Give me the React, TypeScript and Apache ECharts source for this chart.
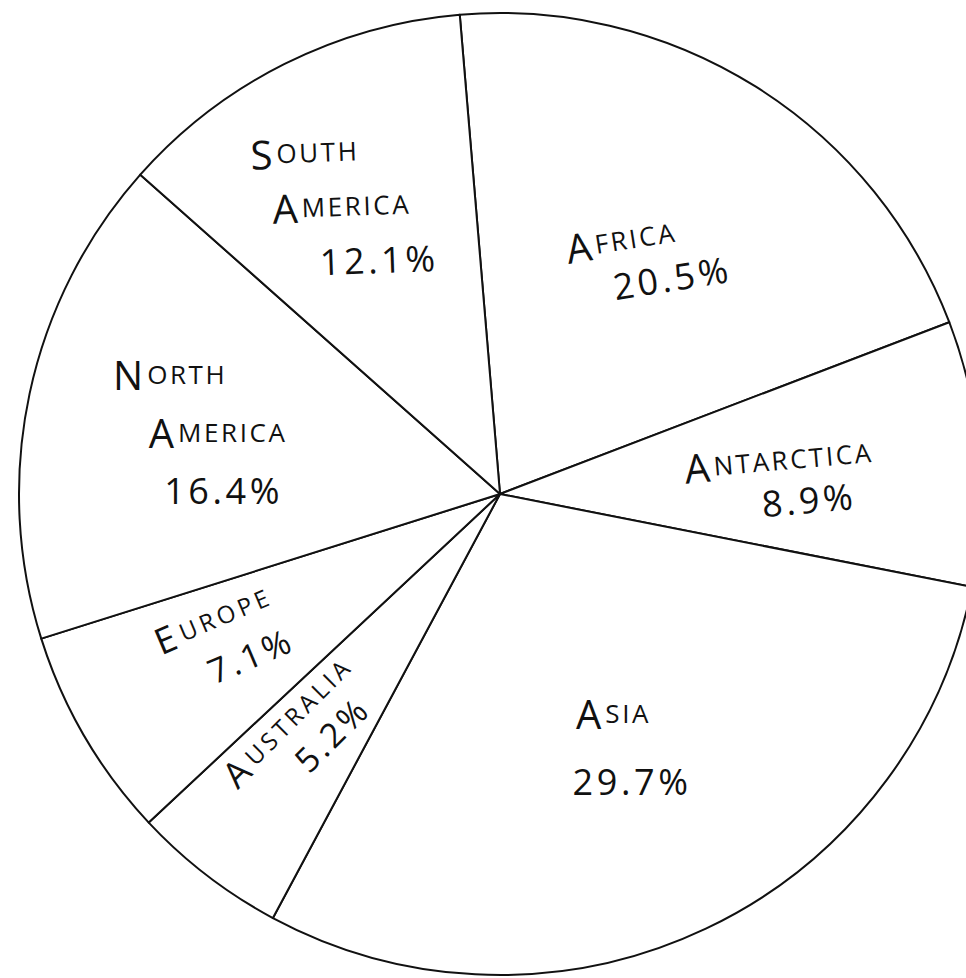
import React, { useEffect, useRef } from "react";
import * as echarts from "echarts";

const continents = ["Africa", "Antarctica", "Asia", "Australia", "Europe", "North America", "South America"];
const shares = [20.5, 8.9, 29.7, 5.2, 7.1, 16.4, 12.1];

// label styling (not data): nudge from the slice's inside anchor [dx, dy, rotate]
const labelNudges: [number, number, number][] = [
  [20, -26, 9],
  [49, 11, 5],
  [17, 33, 0],
  [-60, -1, 45],
  [-63, -4, 23],
  [-59, -11, 0],
  [-48, -72, 2],
];
// per-line horizontal shift (handwritten stagger) and line spacing
const lineShifts: number[][] = [
  [-22, 22],
  [-13, 13],
  [-9, 9],
  [-11, 11],
  [-10, 10],
  [-34, 14, 19],
  [-35, 0, 35],
];
const lineHeights = [45, 42, 68, 40, 48, 58, 55];

const spacerWidths = Array.from({ length: 41 }, (_, i) => i * 2);

export default function App() {
  const ref = useRef<HTMLDivElement>(null);
  useEffect(() => {
    if (!ref.current) return;
    const chart = echarts.init(ref.current, undefined, { renderer: "svg" });
    const font = "'Open Sans', 'Lato', 'DejaVu Sans', sans-serif";
    const base = { fontFamily: font, color: "#111111", fontWeight: 400 as any };
    const rich: Record<string, any> = {
      c: { ...base, fontSize: 40 },
      s: { ...base, fontSize: 26 },
      p: { ...base, fontSize: 36 },
      cs: { ...base, fontSize: 36 },
      ss: { ...base, fontSize: 24 },
      ps: { ...base, fontSize: 34 },
    };
    spacerWidths.forEach((w) => {
      rich["w" + w] = { width: w, fontSize: 10 };
    });
    const spacer = (w: number) => {
      const ww = Math.min(80, Math.max(0, Math.round(w / 2) * 2));
      return ww > 0 ? `{w${ww}|\u00a0}` : "";
    };
    const smallCapsWord = (w: string, big: string, small: string, gap: string) =>
      `{${big}|${w.charAt(0).toUpperCase()}${gap}}{${small}|${w
        .slice(1)
        .toUpperCase()
        .split("")
        .join(gap)}}`;

    chart.setOption({
      animation: false,
      backgroundColor: "#ffffff",
      series: [
        {
          type: "pie",
          center: [500, 494],
          radius: 481,
          startAngle: 94.8,
          clockwise: true,
          avoidLabelOverlap: false,
          silent: true,
          itemStyle: { color: "#ffffff", borderColor: "#111111", borderWidth: 2 },
          emphasis: { disabled: true },
          label: {
            show: true,
            position: "inside",
            align: "center",
            verticalAlign: "middle",
            color: "#111111",
            rich,
            formatter: (p: any) => {
              const small = p.value < 8;
              const b = small ? "cs" : "c";
              const s = small ? "ss" : "s";
              const pc = small ? "ps" : "p";
              const gap = small ? "\u2009" : "\u200a";
              const shifts = lineShifts[p.dataIndex] || [];
              const words = String(p.name).split(" ");
              const lines = words.map((w) => smallCapsWord(w, b, s, gap));
              lines.push(`{${pc}|${(p.value + "%").split("").join("\u200a")}}`);
              return lines
                .map((ln, i) => {
                  const sh = shifts[i] || 0;
                  return sh > 0 ? spacer(2 * sh) + ln : ln + spacer(-2 * sh);
                })
                .join("\n");
            },
          },
          labelLine: { show: false },
          labelLayout: (params: any) => {
            const n = labelNudges[params.dataIndex] || [0, 0, 0];
            return { dx: n[0], dy: n[1], rotate: n[2] };
          },
          data: continents.map((name, i) => ({
            name,
            value: shares[i],
            label: { lineHeight: lineHeights[i] },
          })),
        },
      ],
    });
    return () => chart.dispose();
  }, []);
  return (
    <div
      ref={ref}
      style={{ position: "fixed", left: 0, top: 0, width: 966, height: 978, background: "#fff" }}
    />
  );
}
